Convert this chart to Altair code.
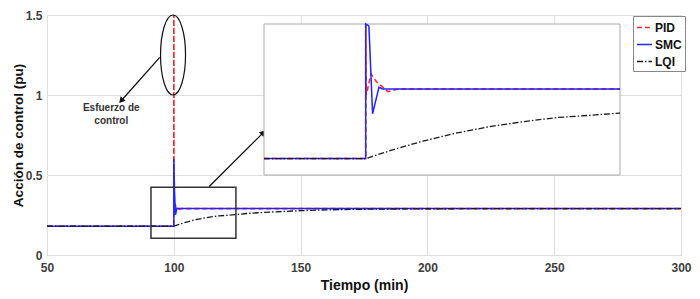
import altair as alt
import pandas as pd

# ---------------- data ----------------
series_names = ["PID", "SMC", "LQI"]

pid_t = [50, 100, 100, 100.05, 100.5, 101.0, 102.1, 103, 124, 300]
pid_u = [0.18, 0.18, 1.5, 0.28, 0.314, 0.302, 0.286, 0.29, 0.29, 0.29]

smc_t = [50, 100, 100, 100.3, 100.65, 101.25, 101.6, 124, 300]
smc_u = [0.18, 0.18, 0.6, 0.39, 0.251, 0.293, 0.29, 0.29, 0.29]

lqi_t = [50, 100, 102.3, 105.4, 108.6, 111.7, 114.8, 118, 121.1, 124,
         130, 140, 150, 160, 175, 200, 250, 300]
lqi_u = [0.18, 0.18, 0.1925, 0.2077, 0.2205, 0.2306, 0.2382, 0.2449, 0.2484, 0.252,
         0.261, 0.270, 0.277, 0.282, 0.286, 0.289, 0.29, 0.29]

x_ticks = [50, 100, 150, 200, 250, 300]
y_ticks = [0, 0.5, 1, 1.5]

# zoom box (data units) and inset domain
box_x = [91, 124.5]
box_y = [0.104, 0.424]
inset_x = [90.4, 124]
inset_y = [0.154, 0.393]

# annotations (data units)
arrow_x = [94.46, 113.96]
arrow_y = [1.235, 0.428]
arrow_x2 = [79.25, 135.3]
arrow_y2 = [0.964, 0.765]
arrow_angle = [221.7, 45.2]
label_lines = ["Esfuerzo de", "control"]
label_x = [75.35, 75.35]
label_y = [0.916, 0.837]
ellipse_x = [99.7]
ellipse_y = [1.25]

# ---------------- tables ----------------
rows = []
for name, ts, us in [("PID", pid_t, pid_u), ("SMC", smc_t, smc_u), ("LQI", lqi_t, lqi_u)]:
    for i, (t, u) in enumerate(zip(ts, us)):
        rows.append({"series": name, "t": t, "u": u, "i": i})
df = pd.DataFrame(rows)
df_inset = df[df.t <= inset_x[1]]

FONT = "Liberation Sans"
color_scale = alt.Scale(domain=series_names, range=["#ff2a2a", "#2323ff", "#1a1a1a"])
dash_scale = alt.Scale(domain=series_names, range=[[5, 3], [1, 0], [6, 2, 1.5, 2]])
legend = alt.Legend(
    orient="none", legendX=586, legendY=1, title=None, symbolType="stroke",
    symbolSize=225, symbolStrokeWidth=1.5, labelFont=FONT, labelFontWeight="bold",
    labelFontSize=12, labelColor="#111", fillColor="white", strokeColor="#888",
    padding=3, rowPadding=2, labelOffset=2,
)

xs = alt.Scale(domain=[50, 300], nice=False)
ys = alt.Scale(domain=[0, 1.5], nice=False)
x_enc = alt.X("t:Q", scale=xs, axis=alt.Axis(values=x_ticks, title="Tiempo (min)", labelFlush=False,
                                             ticks=False, domain=False, labelPadding=7, titlePadding=5))
y_enc = alt.Y("u:Q", scale=ys, axis=alt.Axis(values=y_ticks, format="~g", title="Acción de control (pu)",
                                             labelFlush=False, ticks=False, domain=False,
                                             labelPadding=5, titlePadding=0, titleFontSize=13.5))


def series_layer(data, name, xe, ye, width):
    return alt.Chart(data).transform_filter(alt.datum.series == name).mark_line(strokeWidth=width).encode(
        x=xe, y=ye,
        color=alt.Color("series:N", scale=color_scale, legend=legend),
        strokeDash=alt.StrokeDash("series:N", scale=dash_scale, legend=legend),
        order=alt.Order("i:Q"),
    )


main_lines = [series_layer(df, n, x_enc, y_enc, w) for n, w in [("PID", 1.6), ("SMC", 1.5), ("LQI", 1.3)]]

box = alt.Chart(pd.DataFrame({"x0": [box_x[0]], "x1": [box_x[1]], "y0": [box_y[0]], "y1": [box_y[1]]})).mark_rect(
    fill=None, stroke="#333", strokeWidth=1.5).encode(
    x=alt.X("x0:Q", scale=xs), x2="x1:Q", y=alt.Y("y0:Q", scale=ys), y2="y1:Q")

adf = pd.DataFrame({"x": arrow_x, "y": arrow_y, "x2": arrow_x2, "y2": arrow_y2, "a": arrow_angle})
arrows = alt.Chart(adf).mark_rule(color="#111", strokeWidth=1.3).encode(
    x=alt.X("x:Q", scale=xs), y=alt.Y("y:Q", scale=ys), x2="x2:Q", y2="y2:Q")
heads = alt.Chart(adf).mark_point(shape="triangle-up", filled=True, size=45, color="#111", opacity=1).encode(
    x=alt.X("x2:Q", scale=xs), y=alt.Y("y2:Q", scale=ys), angle=alt.Angle("a:Q", scale=None))

ell_path = "M -0.3125 0 A 0.3125 1 0 1 0 0.3125 0 A 0.3125 1 0 1 0 -0.3125 0 Z"
ellipse = alt.Chart(pd.DataFrame({"x": ellipse_x, "y": ellipse_y})).mark_point(
    shape=ell_path, size=6400, filled=False, stroke="#111", strokeWidth=1.2, opacity=1).encode(
    x=alt.X("x:Q", scale=xs), y=alt.Y("y:Q", scale=ys))

texts = alt.Chart(pd.DataFrame({"x": label_x, "y": label_y, "s": label_lines})).mark_text(
    font=FONT, fontSize=10, fontWeight="bold", color="#333").encode(
    x=alt.X("x:Q", scale=xs), y=alt.Y("y:Q", scale=ys), text="s:N")

main = alt.layer(*main_lines, box, arrows, heads, ellipse, texts)

# ---------------- inset ----------------
ixs = alt.Scale(domain=inset_x, range=[217, 573], clamp=True, nice=False, zero=False)
iys = alt.Scale(domain=inset_y, range=[160, 9], clamp=True, nice=False, zero=False)
ix_enc = alt.X("t:Q", scale=ixs, axis=None)
iy_enc = alt.Y("u:Q", scale=iys, axis=None)

inset_bg = alt.Chart(pd.DataFrame({"x0": [inset_x[0]], "x1": [inset_x[1]],
                                   "y0": [inset_y[0]], "y1": [inset_y[1]]})).mark_rect(
    fill="white", stroke="#aaa", strokeWidth=1).encode(
    x=alt.X("x0:Q", scale=ixs, axis=None), x2="x1:Q", y=alt.Y("y0:Q", scale=iys, axis=None), y2="y1:Q")
inset_lines = [series_layer(df_inset, n, ix_enc, iy_enc, w) for n, w in [("PID", 1.6), ("SMC", 1.5), ("LQI", 1.3)]]
inset = alt.layer(inset_bg, *inset_lines)

chart = alt.layer(main, inset).resolve_scale(x="independent", y="independent").properties(
    width=634, height=240,
    background="white",
    autosize=alt.AutoSizeParams(type="none"),
    padding={"left": 39, "top": 7, "right": 11, "bottom": 44},
).configure_view(stroke="#999", strokeWidth=1).configure_axis(
    gridColor="#dedede", gridWidth=1, labelFont=FONT, labelFontSize=12, labelFontWeight="bold",
    labelColor="#404040", titleFont=FONT, titleFontSize=14, titleFontWeight="bold", titleColor="#111",
)

chart.save("out.html", embed_options={"renderer": "svg", "actions": False})
